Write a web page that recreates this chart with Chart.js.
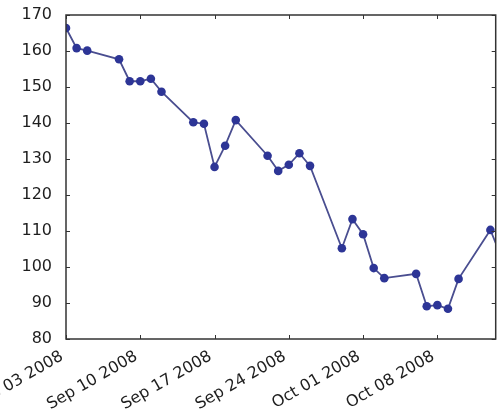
<!DOCTYPE html>
<html>
<head>
<meta charset="utf-8">
<script src="https://cdn.jsdelivr.net/npm/chart.js@4"></script>
<style>
  html, body { margin: 0; padding: 0; background: #fff; overflow: hidden; }
  #wrap { width: 500px; height: 412px; }
</style>
</head>
<body>
<div id="wrap"><canvas id="chart" width="500" height="412"></canvas></div>
<script>
// closing values, trading days Sep 3 - Oct 14 2008
const dates = [
  "2008-09-03", "2008-09-04", "2008-09-05", "2008-09-08", "2008-09-09",
  "2008-09-10", "2008-09-11", "2008-09-12", "2008-09-15", "2008-09-16",
  "2008-09-17", "2008-09-18", "2008-09-19", "2008-09-22", "2008-09-23",
  "2008-09-24", "2008-09-25", "2008-09-26", "2008-09-29", "2008-09-30",
  "2008-10-01", "2008-10-02", "2008-10-03", "2008-10-06", "2008-10-07",
  "2008-10-08", "2008-10-09", "2008-10-10", "2008-10-13", "2008-10-14",
];
const prices = [
  166.4, 160.8, 160.1, 157.7, 151.6,
  151.6, 152.3, 148.7, 140.2, 139.8,
  127.8, 133.7, 140.8, 130.9, 126.7,
  128.4, 131.6, 128.1, 105.2, 113.3,
  109.1, 99.7, 96.9, 98.1, 89.1,
  89.4, 88.4, 96.7, 110.3, 103.0,
];
const xTickDates = ["2008-09-03", "2008-09-10", "2008-09-17", "2008-09-24", "2008-10-01", "2008-10-08"];
const xEndDate = "2008-10-13T12:00:00Z";
const yTicks = [80, 90, 100, 110, 120, 130, 140, 150, 160, 170];

const MONTHS = ["Jan", "Feb", "Mar", "Apr", "May", "Jun", "Jul", "Aug", "Sep", "Oct", "Nov", "Dec"];
const DAY = 86400000;
const t0 = Date.parse(dates[0] + "T00:00:00Z");
const toDays = (s) => (Date.parse(s.length > 10 ? s : s + "T00:00:00Z") - t0) / DAY;

function fmtDate(days) {
  const d = new Date(t0 + days * DAY);
  const dd = String(d.getUTCDate()).padStart(2, "0");
  return `${MONTHS[d.getUTCMonth()]} ${dd} ${d.getUTCFullYear()}`;
}

const TEXT = "#1e1e1e";
const FONT = { family: "DejaVu Sans", size: 16 };

// ── Frame + inward ticks (matplotlib style) ─────────────────

const framePlugin = {
  id: "frame",
  afterDraw(chart) {
    const { ctx, chartArea: a, scales } = chart;
    ctx.save();
    ctx.strokeStyle = "#333";
    ctx.lineWidth = 1;
    ctx.beginPath();
    scales.x.ticks.forEach((t) => {
      const px = Math.round(scales.x.getPixelForValue(t.value)) + 0.5;
      ctx.moveTo(px, a.bottom); ctx.lineTo(px, a.bottom - 4);
      ctx.moveTo(px, a.top); ctx.lineTo(px, a.top + 4);
    });
    scales.y.ticks.forEach((t) => {
      const py = Math.round(scales.y.getPixelForValue(t.value)) + 0.5;
      ctx.moveTo(a.left, py); ctx.lineTo(a.left + 4, py);
      ctx.moveTo(a.right, py); ctx.lineTo(a.right - 4, py);
    });
    ctx.stroke();
    ctx.lineWidth = 1.5;
    ctx.strokeRect(a.left, a.top, a.right - a.left, a.bottom - a.top);
    ctx.restore();
  },
};

new Chart(document.getElementById("chart"), {
  type: "line",
  data: {
    datasets: [
      {
        data: dates.map((d, i) => ({ x: toDays(d), y: prices[i] })),
        borderColor: "#4a4e90",
        borderWidth: 1.8,
        pointRadius: 4.3,
        pointBackgroundColor: "#2d3596",
        pointBorderColor: "#2d3596",
        pointBorderWidth: 0,
        tension: 0,
        clip: 0,
      },
    ],
  },
  options: {
    responsive: false,
    animation: false,
    layout: { padding: { top: 15, right: 1, left: 0, bottom: 0 } },
    plugins: { legend: { display: false }, tooltip: { enabled: false } },
    scales: {
      x: {
        type: "linear",
        min: 0,
        max: toDays(xEndDate),
        grid: { display: false },
        border: { display: false },
        afterBuildTicks: (s) => { s.ticks = xTickDates.map((d) => ({ value: toDays(d) })); },
        afterFit: (s) => { s.height = 73; s.paddingLeft = 0; s.paddingRight = 0; },
        ticks: {
          autoSkip: false,
          minRotation: 30,
          maxRotation: 30,
          padding: 0,
          labelOffset: -4,
          color: TEXT,
          font: FONT,
          callback: (v) => fmtDate(v),
        },
      },
      y: {
        min: 80,
        max: 170,
        grid: { display: false },
        border: { display: false },
        afterBuildTicks: (s) => { s.ticks = yTicks.map((v) => ({ value: v })); },
        afterFit: (s) => { s.width = 66; s.paddingTop = 0; s.paddingBottom = 0; },
        ticks: { padding: 6, color: TEXT, font: FONT },
      },
    },
  },
  plugins: [framePlugin],
});
</script>
</body>
</html>
